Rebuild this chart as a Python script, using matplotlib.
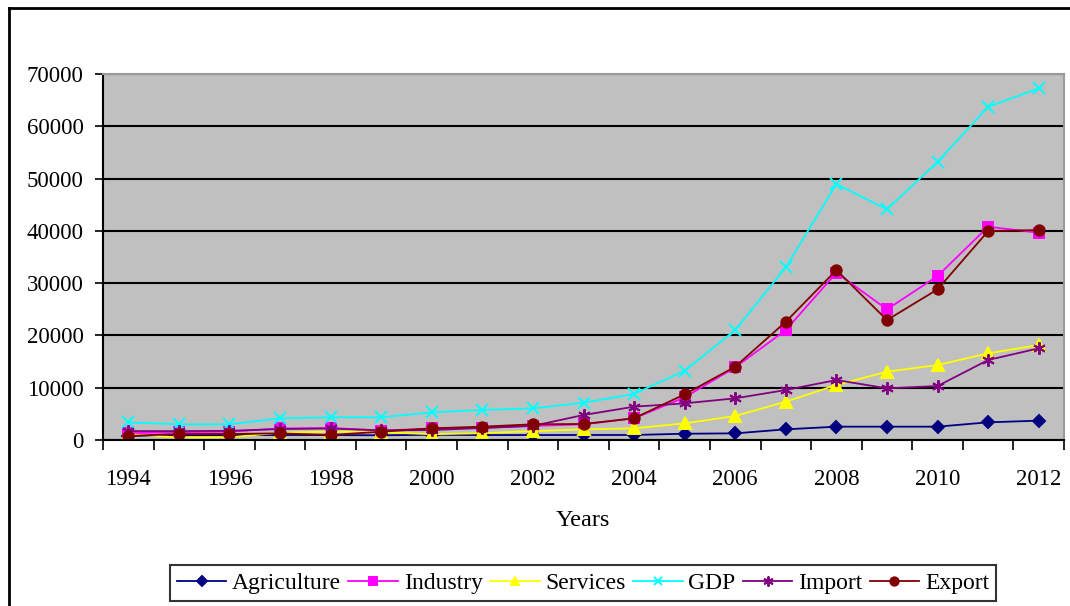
import numpy as np
import matplotlib
matplotlib.use("Agg")
import matplotlib.pyplot as plt
from matplotlib.lines import Line2D

plt.rcParams['font.family'] = ['Liberation Serif', 'DejaVu Serif']

# data
years = list(range(1994, 2013))
agriculture = [800, 900, 950, 950, 950, 900, 1000, 950, 950, 960,
               960, 1200, 1270, 2040, 2550, 2550, 2550, 3380, 3700]
industry = [1300, 1500, 1600, 2200, 2300, 1800, 2200, 2300, 2700, 3000,
            4150, 8160, 13900, 21030, 32000, 24990, 31360, 40790, 39640]
services = [1100, 500, 500, 1400, 1600, 1500, 1100, 1300, 1700, 2040,
            2230, 3190, 4590, 7330, 10520, 13060, 14340, 16570, 18160]
gdp = [3380, 3000, 3000, 4150, 4340, 4340, 5300, 5740, 6060, 7130,
       8800, 13250, 21030, 33020, 48950, 44110, 53210, 63730, 67250]
imports = [1700, 1700, 1750, 2100, 2200, 1850, 1900, 2300, 2700, 4780,
           6370, 7010, 7970, 9560, 11470, 9880, 10320, 15300, 17530]
exports = [770, 1150, 1150, 1270, 960, 1590, 2230, 2550, 3000, 3060,
           4150, 8740, 14020, 22620, 32500, 22940, 28810, 39960, 40150]

series = [
    ("Agriculture", agriculture, "#000080", "D", 6),
    ("Industry", industry, "#FF00FF", "s", 7),
    ("Services", services, "#FFFF00", "^", 8),
    ("GDP", gdp, "#00FFFF", "x", 8),
    ("Import", imports, "#800080", (6, 2, 0), 9),
    ("Export", exports, "#800000", "o", 7.5),
]

fig = plt.figure(figsize=(10.7, 6.06), dpi=100)
ax = fig.add_axes([103/1070, 1-440/606, (1064-103)/1070, (440-74)/606])
ax.set_facecolor("#C0C0C0")

x = np.arange(len(years))
for name, vals, col, mk, ms in series:
    ax.plot(x, vals, color=col, marker=mk, markersize=ms, lw=1.3,
            markeredgewidth=1.4, label=name)

ax.set_ylim(0, 70000)
ax.set_xlim(-0.5, len(years) - 0.5)
ax.set_yticks(np.arange(0, 70001, 10000))
ax.yaxis.grid(True, color="black", lw=1.5)
ax.set_axisbelow(True)
ax.tick_params(axis="y", direction="out", length=6, width=1.2, pad=8, labelsize=16.5)

# category axis: ticks between categories, labels on every other year
ax.set_xticks(np.arange(-0.5, len(years), 1.0))
ax.set_xticklabels([])
ax.set_xticks(x[::2], minor=True)
ax.set_xticklabels([str(y) for y in years[::2]], minor=True)
ax.tick_params(axis="x", which="major", direction="out", length=7, width=1.2)
ax.tick_params(axis="x", which="minor", length=0, pad=21, labelsize=16.5)

for s in ["left", "bottom"]:
    ax.spines[s].set_color("black")
    ax.spines[s].set_linewidth(1.5)
for s in ["top", "right"]:
    ax.spines[s].set_color("#9a9a9a")
    ax.spines[s].set_linewidth(1.5)

fig.text(583/1070, 1-520/606, "Years", ha="center", va="center", fontsize=17.5)

leg = fig.legend(loc="center", bbox_to_anchor=(583/1070, 1-583/606), ncol=6,
                 fontsize=17, frameon=True, fancybox=False, handlelength=2.1,
                 columnspacing=0.3, handletextpad=0.25, borderpad=0.3,
                 borderaxespad=0.2, edgecolor="black", markerscale=0.8)
leg.get_frame().set_linewidth(1.5)

# outer chart border (left and top)
fig.add_artist(Line2D([9/1070, 9/1070], [0, 1-8/606], color="black", lw=2,
                      transform=fig.transFigure))
fig.add_artist(Line2D([9/1070, 1], [1-8/606, 1-8/606], color="black", lw=2,
                      transform=fig.transFigure))

fig.savefig("out.png", dpi=100)
